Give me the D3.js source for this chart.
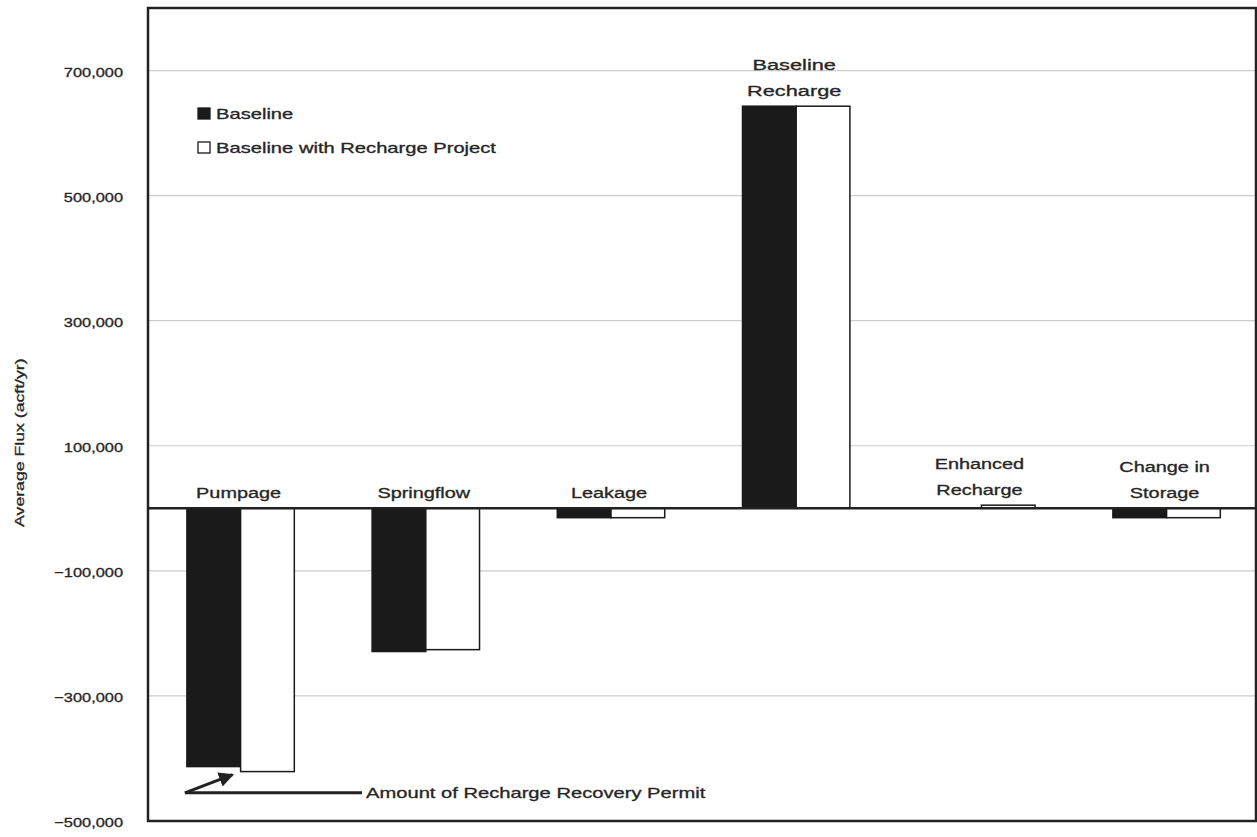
<!DOCTYPE html>
<html><head><meta charset="utf-8">
<script src="https://cdn.jsdelivr.net/npm/d3@7"></script>
<style>body{margin:0;background:#fff;} svg{display:block;font-family:"Liberation Sans",Arial,sans-serif;}</style>
</head><body>
<script>
const categories = [["Pumpage"],["Springflow"],["Leakage"],["Baseline","Recharge"],["Enhanced","Recharge"],["Change in","Storage"]];
const seriesNames = ["Baseline","Baseline with Recharge Project"];
const baseline = [-413000,-229000,-15000,643000,0,-15000];
const withProject = [-421000,-226000,-15000,643000,5000,-15000];
const yTicks = [700000,500000,300000,100000,-100000,-300000,-500000];
const annotation = "Amount of Recharge Recovery Permit";
const yTitle = "Average Flux (acft/yr)";

const W=1257,H=837;
const m={l:148,t:8,r:1256,b:821};
const INK="#262626";
const svg=d3.select("body").append("svg").attr("width",W).attr("height",H);
const y=d3.scaleLinear().domain([-500000,800000]).range([m.b,m.t]);
const x=d3.scaleBand().domain(d3.range(categories.length)).range([m.l,m.l+6*185.2]).paddingInner(0.42).paddingOuter(0.21);
const xs=d3.scaleBand().domain([0,1]).range([0,x.bandwidth()]);

// stretched text helper (the reference uses a wide face)
function T(px,py,str,size,anchor,sx,rot){
  const g=svg.append("g").attr("transform",`translate(${px},${py}) rotate(${rot||0}) scale(${sx},1)`);
  g.append("text").attr("text-anchor",anchor).attr("font-size",size)
   .attr("fill",INK).attr("stroke",INK).attr("stroke-width",0.3).text(str);
  return g;
}

// gridlines
svg.append("g").selectAll("line").data(yTicks.filter(v=>v>-500000)).join("line")
 .attr("x1",m.l).attr("x2",m.r).attr("y1",d=>y(d)).attr("y2",d=>y(d))
 .attr("stroke","#cdcdcd").attr("stroke-width",1.2);

// y tick labels
const fmt=d3.format(",");
yTicks.forEach(v=>T(123,y(v)+6,fmt(v),13,"end",1.26));

// bars
const data=categories.map((c,i)=>({i,vals:[baseline[i],withProject[i]]}));
const g=svg.append("g");
data.forEach(d=>{
  d.vals.forEach((v,k)=>{
    g.append("rect").attr("x",x(d.i)+xs(k)).attr("width",xs.bandwidth())
     .attr("y",y(Math.max(0,v))).attr("height",Math.abs(y(v)-y(0)))
     .attr("fill",k===0?"#1a1a1a":"#fff").attr("stroke","#1a1a1a").attr("stroke-width",1.5);
  });
});

// zero line
svg.append("line").attr("x1",m.l).attr("x2",m.r).attr("y1",y(0)).attr("y2",y(0)).attr("stroke","#222").attr("stroke-width",2.5);

// frame
svg.append("rect").attr("x",m.l).attr("y",m.t).attr("width",m.r-m.l).attr("height",m.b-m.t)
 .attr("fill","none").attr("stroke","#222").attr("stroke-width",2.5);

// category labels
data.forEach(d=>{
  const top=y(Math.max(0,d.vals[0],d.vals[1]));
  const lines=categories[d.i];
  const cx=x(d.i)+x.bandwidth()/2-2;
  const lh=26;
  const big=d.vals[0]>100000;
  lines.forEach((t,j)=>{
    const yy=top-10-(lines.length-1-j)*lh;
    T(cx,yy,t,big?14.5:14,"middle",big?1.5:1.42);
  });
});

// legend
seriesNames.forEach((s,k)=>{
  const ly=115+k*34;
  svg.append("rect").attr("x",198).attr("y",ly-7).attr("width",12).attr("height",11)
   .attr("fill",k===0?"#1a1a1a":"#fff").attr("stroke","#1a1a1a").attr("stroke-width",1.3);
  T(216,ly+4,s,14,"start",1.44);
});

// annotation arrow
const ay=y(-455000);
svg.append("defs").append("marker").attr("id","ah").attr("viewBox","0 0 10 10").attr("refX",9).attr("refY",5)
 .attr("markerWidth",5).attr("markerHeight",5).attr("orient","auto")
 .append("path").attr("d","M0,0L10,5L0,10z").attr("fill","#222");
const ax0=x(0)-2, ax1=x(0)+xs.bandwidth()*0.85;
svg.append("line").attr("x1",ax0).attr("y1",ay).attr("x2",362).attr("y2",ay).attr("stroke","#222").attr("stroke-width",3);
svg.append("line").attr("x1",ax0).attr("y1",ay).attr("x2",ax1).attr("y2",y(-418000)+5).attr("stroke","#222").attr("stroke-width",3).attr("marker-end","url(#ah)");
T(366,ay+5,annotation,14,"start",1.44);

// y title
T(24,y(105000),yTitle,13,"middle",1.36,-90);
</script>
</body></html>
